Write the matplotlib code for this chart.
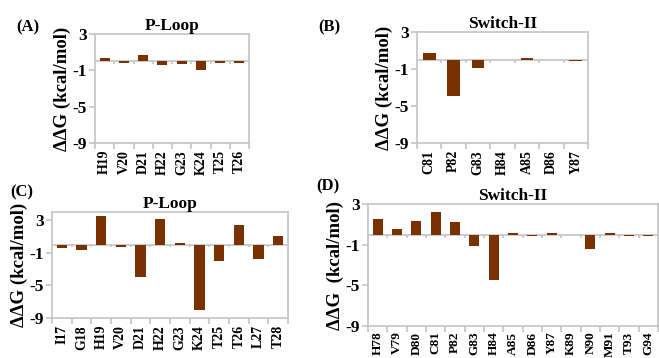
import numpy as np
import matplotlib
matplotlib.use("Agg")
import matplotlib.pyplot as plt

plt.rcParams['font.family'] = ['Liberation Serif', 'DejaVu Serif']
plt.rcParams['font.weight'] = 'bold'

# data
a_res = ['H19', 'V20', 'D21', 'H22', 'G23', 'K24', 'T25', 'T26']
a_val = [0.4, -0.15, 0.7, -0.37, -0.26, -0.92, -0.15, -0.15]

b_res = ['C81', 'P82', 'G83', 'H84', 'A85', 'D86', 'Y87']
b_val = [0.75, -3.9, -0.85, -0.05, 0.15, -0.05, -0.15]

c_res = ['I17', 'G18', 'H19', 'V20', 'D21', 'H22', 'G23', 'K24', 'T25', 'T26', 'L27', 'T28']
c_val = [-0.38, -0.62, 3.45, -0.25, -3.95, 3.2, 0.24, -8.05, -2.07, 2.46, -1.74, 1.1]

d_res = ['H78', 'V79', 'D80', 'C81', 'P82', 'G83', 'H84', 'A85', 'D86', 'Y87',
         'K89', 'N90', 'M91', 'T93', 'G94']
d_val = [1.48, 0.5, 1.29, 2.18, 1.19, -1.09, -4.5, 0.1, -0.15, 0.1,
         -0.05, -1.38, 0.1, -0.15, -0.15]

yticks = [3, -1, -5, -9]
BAR = '#7a3100'
GRAY = '#c4c4c4'
W, H = 659, 358

fig = plt.figure(figsize=(W / 100, H / 100), dpi=100)


def make_panel(box, res, val, title, ylab, ymax, xfs=10, xpad=5):
    l, r, t, b = box
    ax = fig.add_axes([l / W, 1 - b / H, (r - l) / W, (b - t) / H])
    n = len(res)
    x = np.arange(n)
    ax.bar(x, val, width=0.52, color=BAR, zorder=3)
    ax.set_xlim(-0.5, n - 0.5)
    ax.set_ylim(-9, ymax)
    ax.axhline(0, color=GRAY, lw=1.2, zorder=2)
    bounds = np.arange(n + 1) - 0.5
    ax.vlines(bounds[1:-1], -0.3, 0, color=GRAY, lw=1.2, zorder=2)
    ax.set_xticks(x)
    ax.set_xticklabels(res, rotation=90, fontsize=xfs, fontweight='bold')
    ax.set_xticks(bounds, minor=True)
    ax.tick_params(axis='x', which='major', length=0, pad=xpad)
    ax.tick_params(axis='x', which='minor', length=4, color=GRAY, width=1.2)
    ax.set_yticks(yticks)
    ax.set_yticklabels([str(v) for v in yticks], fontsize=12.5, fontweight='bold')
    ax.tick_params(axis='y', length=4, color=GRAY, width=1.2, pad=2)
    for s in ax.spines.values():
        s.set_color(GRAY)
        s.set_linewidth(1.2)
    ax.set_ylabel(ylab, fontsize=13.5, fontweight='bold', labelpad=1)
    ax.set_title(title, fontsize=12.5, fontweight='bold', pad=3)
    return ax


make_panel((95, 249, 34, 143), a_res, a_val, 'P-Loop', 'ΔΔG (kcal/mol)', 3)
make_panel((417, 588, 32, 143), b_res, b_val, 'Switch-II', 'ΔΔG (kcal/mol)', 3)
make_panel((52, 288, 212, 318), c_res, c_val, 'P-Loop', 'ΔΔG (kcal/mol)', 4)
make_panel((368, 658, 204, 326), d_res, d_val, 'Switch-II', 'ΔΔG  (kcal/mol)', 3,
           xfs=9.5, xpad=4)

fig.text(16 / W, 1 - 27 / H, '(A)', fontsize=12, fontweight='bold', va='center')
fig.text(318 / W, 1 - 27 / H, '(B)', fontsize=12, fontweight='bold', va='center')
fig.text(10 / W, 1 - 192 / H, '(C)', fontsize=12, fontweight='bold', va='center')
fig.text(316 / W, 1 - 186 / H, '(D)', fontsize=12, fontweight='bold', va='center')

fig.savefig('out.png', dpi=100)
